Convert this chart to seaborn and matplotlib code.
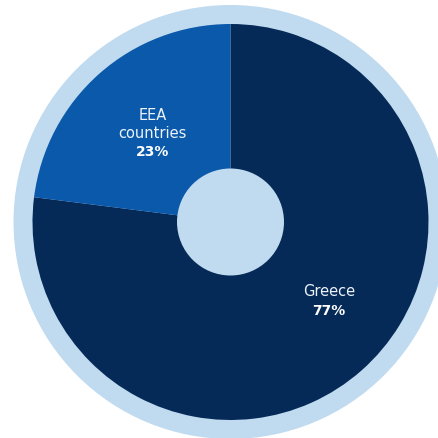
import matplotlib
matplotlib.use("Agg")
import matplotlib.pyplot as plt
from matplotlib.patches import Circle
import seaborn as sns

# Share of funding by origin (percent)
categories = ["Greece", "EEA countries"]
shares = [77, 23]
label_lines = [["Greece"], ["EEA", "countries"]]

navy = "#052a57"
mid_blue = "#0b59aa"
pale_blue = "#c0dbef"

sns.set_theme(style="white")
plt.rcParams["font.family"] = ["DejaVu Sans"]

W, H = 438, 439
fig = plt.figure(figsize=(W / 100, H / 100), dpi=100)
ax = fig.add_axes([0, 0, 1, 1])

cx, cy = 230.5, H - 223
r_pie = 198

# pale backdrop disc forming the outer rim
ax.add_patch(Circle((cx, cy), 217, color=pale_blue, zorder=0, lw=0))

ax.pie(shares, colors=[navy, mid_blue], startangle=90, counterclock=False,
       center=(cx, cy), radius=r_pie, wedgeprops=dict(linewidth=0),
       frame=True)

# pale centre hole
ax.add_patch(Circle((cx, cy), 53.5, color=pale_blue, zorder=5, lw=0))

# label anchors (pixel rows measured from the top of the figure)
anchors = {"Greece": (329, [292]), "EEA countries": (152.5, [115, 133.5])}
pct_rows = {"Greece": 311, "EEA countries": 152}

for cat, lines, val in zip(categories, label_lines, shares):
    x, rows = anchors[cat]
    for txt, row in zip(lines, rows):
        ax.text(x, H - row, txt, color="#eef3f9", fontsize=10.5,
                ha="center", va="center", zorder=6)
    ax.text(x, H - pct_rows[cat], f"{val}%", color="white", fontsize=10,
            fontweight="bold", ha="center", va="center", zorder=6)

ax.set_xlim(0, W)
ax.set_ylim(0, H)
ax.set_aspect("equal")
ax.axis("off")
fig.savefig("out.png", dpi=100, facecolor="white")
